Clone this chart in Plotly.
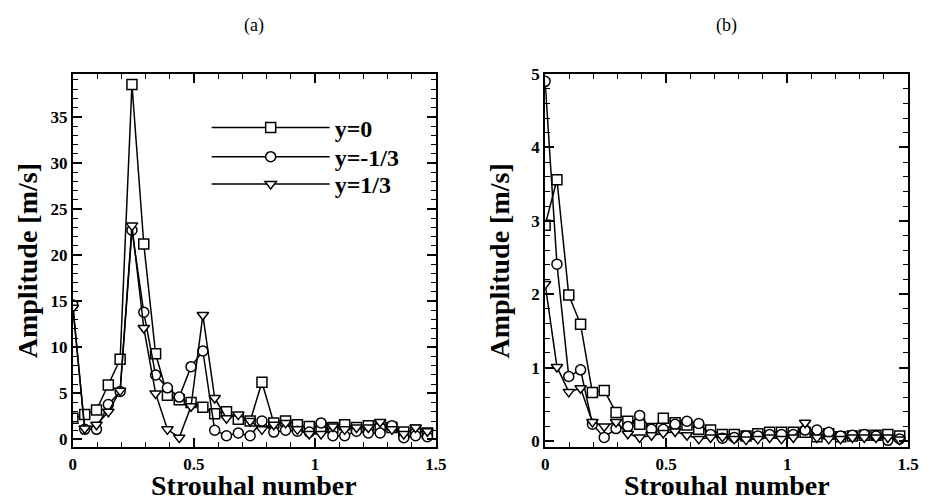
import plotly.graph_objects as go

# Frequency bins (Strouhal number), step = 1/20.48
df = 1 / 20.48
strouhal = [round(k * df, 5) for k in range(31)]

series_names = ["y=0", "y=-1/3", "y=1/3"]

# Panel (a) amplitudes [m/s]
amp_a_y0 = [2.3, 2.7, 3.2, 5.9, 8.7, 38.5, 21.2, 9.3, 4.8, 4.3, 4.0, 3.5, 2.8, 3.0, 2.2,
            2.0, 6.2, 1.8, 2.0, 1.6, 1.4, 1.3, 1.3, 1.6, 1.3, 1.5, 1.5, 1.3, 0.8, 1.0, 0.7]
amp_a_ym = [14.6, 1.1, 1.1, 3.8, 5.2, 22.7, 13.8, 7.0, 5.6, 4.6, 7.9, 9.6, 1.0, 0.4, 0.7,
            0.4, 2.0, 0.8, 1.0, 0.9, 0.8, 1.8, 0.4, 0.4, 0.9, 0.7, 0.7, 1.5, 0.2, 0.4, 0.3]
amp_a_yp = [14.3, 1.2, 1.6, 3.0, 5.3, 23.2, 12.1, 5.0, 1.1, 0.2, 3.6, 13.5, 4.5, 2.3, 2.7,
            2.0, 1.1, 1.6, 1.8, 1.1, 0.6, 0.6, 1.4, 1.1, 1.3, 1.3, 1.9, 1.1, 0.6, 1.3, 0.9]

# Panel (b) amplitudes [m/s]
amp_b_y0 = [2.94, 3.56, 1.99, 1.59, 0.66, 0.69, 0.39, 0.27, 0.23, 0.17, 0.31, 0.25, 0.22, 0.16, 0.15,
            0.09, 0.09, 0.07, 0.10, 0.12, 0.12, 0.12, 0.12, 0.06, 0.10, 0.06, 0.07, 0.08, 0.08, 0.09, 0.07]
amp_b_ym = [4.90, 2.41, 0.88, 0.97, 0.23, 0.05, 0.17, 0.20, 0.35, 0.16, 0.16, 0.23, 0.27, 0.24, 0.09,
            0.04, 0.05, 0.07, 0.07, 0.09, 0.09, 0.09, 0.15, 0.15, 0.12, 0.07, 0.08, 0.09, 0.07, 0.01, 0.03]
amp_b_yp = [2.14, 1.01, 0.67, 0.72, 0.26, 0.20, 0.26, 0.10, 0.05, 0.08, 0.11, 0.13, 0.08, 0.03, 0.05,
            0.06, 0.03, 0.02, 0.03, 0.05, 0.03, 0.05, 0.25, 0.05, 0.03, 0.03, 0.05, 0.05, 0.05, 0.05, 0.02]

x_ticks = [0, 0.5, 1, 1.5]
x_ticktext = ["0", "0.5", "1", "1.5"]
x_title = "Strouhal number"
y_title = "Amplitude [m/s]"
panel_labels = ["(a)", "(b)"]

symbols = ["square", "circle", "triangle-down"]
legend_ids = ["legend", "legend2", "legend3"]
FONT = "Liberation Serif"

fig = go.Figure()

for i, (name, ya, yb) in enumerate(zip(series_names,
                                      [amp_a_y0, amp_a_ym, amp_a_yp],
                                      [amp_b_y0, amp_b_ym, amp_b_yp])):
    style = dict(
        mode="lines+markers",
        line=dict(color="black", width=1.5),
        marker=dict(symbol=symbols[i], size=10, color="white",
                    line=dict(color="black", width=1.5)),
    )
    fig.add_trace(go.Scatter(x=strouhal, y=ya, name=name, legendgroup=name, legend=legend_ids[i],
                             xaxis="x", yaxis="y", **style))
    fig.add_trace(go.Scatter(x=strouhal, y=yb, name=name, legendgroup=name, showlegend=False,
                             xaxis="x2", yaxis="y2", **style))

axis_common = dict(
    showline=True, linecolor="black", linewidth=2, mirror="ticks",
    ticks="inside", ticklen=9, tickwidth=1.5, tickcolor="black",
    showgrid=False, zeroline=False,
    tickfont=dict(family=FONT, size=17, color="black", weight="bold"),
)
minor_common = dict(ticks="inside", ticklen=5, tickwidth=1, tickcolor="black")

W, H = 930, 501
xdom_a = [70 / W, 439 / W]
xdom_b = [550 / W, 919 / W]
ydom = [51 / H, 434.3 / H]

title_font = dict(family=FONT, size=28, color="black", weight="bold")

annotations = []
for lab, dom, ytx in zip(panel_labels, [xdom_a, xdom_b], [24 / W, 504 / W]):
    cx = (dom[0] + dom[1]) / 2
    annotations.append(dict(text=lab, x=cx, y=1 - 17 / H, xref="paper", yref="paper",
                            xanchor="center", yanchor="middle", showarrow=False,
                            font=dict(family=FONT, size=18, color="black")))
    annotations.append(dict(text=x_title, x=cx, y=1 - 489 / H, xref="paper", yref="paper",
                            xanchor="center", yanchor="middle", showarrow=False, font=title_font))
    annotations.append(dict(text=y_title, x=ytx, y=(ydom[0] + ydom[1]) / 2, xref="paper", yref="paper",
                            xanchor="center", yanchor="middle", showarrow=False, textangle=-90,
                            font=title_font))

legend_style = dict(xanchor="left", yanchor="middle", bgcolor="rgba(0,0,0,0)", borderwidth=0,
                    itemwidth=118, font=dict(family=FONT, size=24, color="black", weight="bold"))
legend_centers = [122, 152, 180]

layout_legends = {lid: dict(x=206 / W, y=1 - yc / H, **legend_style)
                  for lid, yc in zip(legend_ids, legend_centers)}

fig.update_layout(
    width=W, height=H,
    margin=dict(l=0, r=0, t=0, b=0),
    paper_bgcolor="white", plot_bgcolor="white",
    font=dict(family=FONT, color="black"),
    xaxis=dict(domain=xdom_a, range=[0, 1.5], tickvals=x_ticks, ticktext=x_ticktext,
               minor=dict(dtick=0.1, **minor_common), anchor="y", **axis_common),
    yaxis=dict(domain=ydom, range=[-0.85, 39.65], dtick=5, tick0=0,
               minor=dict(dtick=1, **minor_common), anchor="x", **axis_common),
    xaxis2=dict(domain=xdom_b, range=[0, 1.5], tickvals=x_ticks, ticktext=x_ticktext,
                minor=dict(dtick=0.1, **minor_common), anchor="y2", **axis_common),
    yaxis2=dict(domain=ydom, range=[-0.085, 5.0], dtick=1, tick0=0,
                minor=dict(dtick=0.2, **minor_common), anchor="x2", **axis_common),
    annotations=annotations,
    **layout_legends,
)

# remove the browser's default page margin so the figure sits at the window's top-left corner
fig.write_html("out.html", config={"displayModeBar": False},
               post_script="document.body.style.margin='0';")
